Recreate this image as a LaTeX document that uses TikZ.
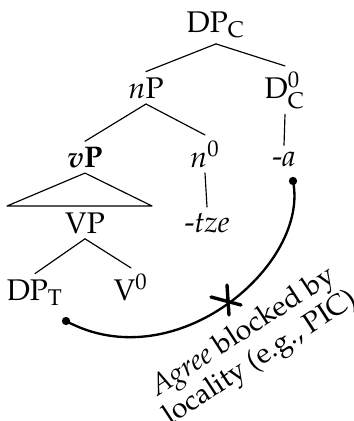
\documentclass[tikz,border=0pt]{standalone}
\usepackage[T1]{fontenc}
\usepackage{mathpazo}
\begin{document}
\begin{tikzpicture}[line cap=round, line join=round, x=0.385pt, y=-0.385pt, font=\fontsize{11.5}{14}\selectfont]
	\tikzset{lbl/.style={inner sep=2pt, anchor=base}, br/.style={line width=0.45pt}, agree/.style={line width=0.9pt}, dot/.style={circle, fill, inner sep=0pt, minimum size=3.2pt}}
	\useasboundingbox (0,0) rectangle (354,421);
	\node[lbl] (dpc) at (216,32) {DP$_\mathrm{C}$};
	\node[lbl] (np) at (146,98) {$n$P};
	\node[lbl] (dc) at (285,98) {D$^0_\mathrm{C}$};
	\node[lbl] (vp) at (85,167) {\textbf{\textit{v}P}};
	\node[lbl] (n0) at (205,167) {$n^0$};
	\node[lbl] (a) at (284,166) {-\textit{a}};
	\node[lbl] (VP) at (85,233) {VP};
	\node[lbl] (tze) at (207,232) {-\textit{tze}};
	\node[lbl] (dpt) at (35,300) {DP$_\mathrm{T}$};
	\node[lbl] (v0) at (131,300) {V$^0$};
	\coordinate (tl) at (7,206); \coordinate (tr) at (152,206);
	\draw[br] (dpc.south) -- (np.north);
	\draw[br] (dpc.south) -- (dc.north);
	\draw[br] (np.south) -- (vp.north);
	\draw[br] (np.south) -- (n0.north);
	\draw[br] (dc.south) -- (a.north);
	\draw[br] (vp.south) -- (tl) -- (tr) -- cycle;
	\draw[br] (n0.south) -- (tze.north);
	\draw[br] (VP.south) -- (dpt.north);
	\draw[br] (VP.south) -- (v0.north);
	% agree curve
	\node[dot] (ga) at (293,181) {};
	\node[dot] (gt) at (66,321) {};
	\draw[agree] (ga.center) .. controls (310,265) and (175,380) .. (gt.center);
	\coordinate (xm) at (228,300);
	\draw[line width=1.3pt] ([shift={(-17,-3)}]xm) -- ([shift={(13,5)}]xm);
	\draw[line width=1.3pt] ([shift={(-1,-15)}]xm) -- ([shift={(1,15)}]xm);
	\node[rotate=33, align=center, inner sep=0pt, font=\fontsize{11}{12}\selectfont] (note) at (252,346) {\textit{Agree} blocked by\\locality (e.g., PIC)};
\end{tikzpicture}
\end{document}
